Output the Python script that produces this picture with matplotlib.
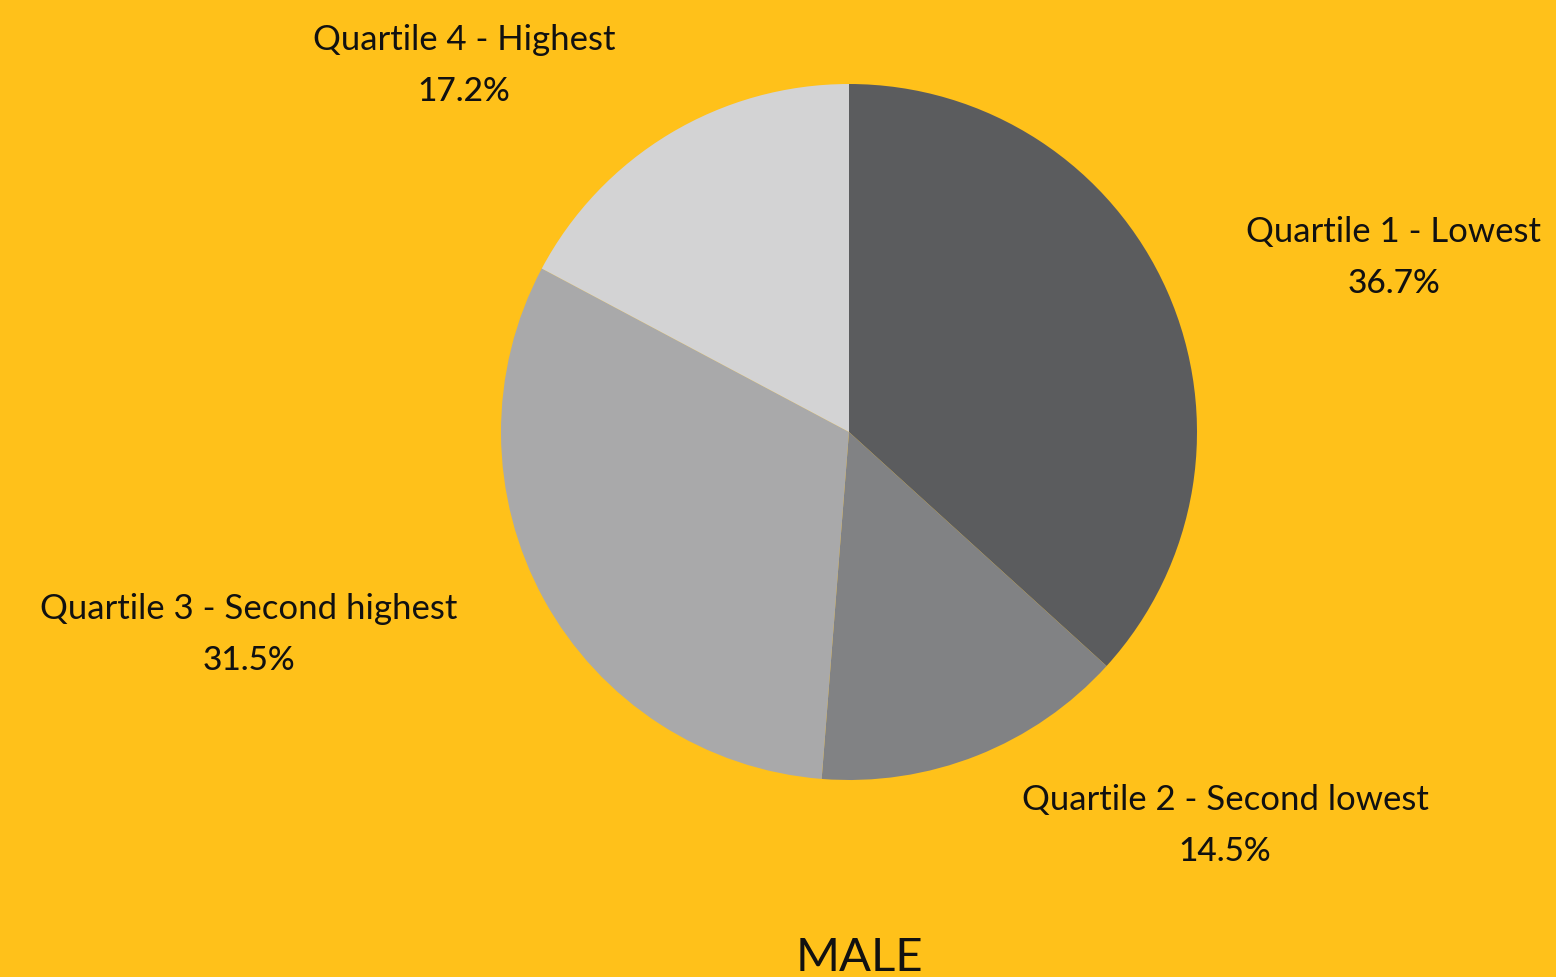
import matplotlib
matplotlib.use("Agg")
import matplotlib.pyplot as plt

categories = ["Quartile 1 - Lowest", "Quartile 2 - Second lowest",
              "Quartile 3 - Second highest", "Quartile 4 - Highest"]
values = [36.7, 14.5, 31.5, 17.2]
colors = ["#5b5c5e", "#818284", "#a9a9aa", "#d3d3d4"]
title = "MALE"

# label anchor offsets from the pie centre, in pixels (x right, y up)
label_offsets = [(545, 174), (376, -394), (-600, -203), (-385, 366)]

W, H = 1556, 977
bg = "#ffc11a"

fig = plt.figure(figsize=(W / 100, H / 100), dpi=100, facecolor=bg)
ax = fig.add_axes([0, 0, 1, 1])
ax.set_facecolor(bg)

cx, cy, r = 849, H - 432, 348
ax.pie(values, colors=colors, startangle=90, counterclock=False,
       center=(cx, cy), radius=r, frame=True,
       wedgeprops=dict(linewidth=0))
ax.set_xlim(0, W)
ax.set_ylim(0, H)
ax.set_aspect("equal")
ax.axis("off")

font = "Lato"
for name, v, (dx, dy) in zip(categories, values, label_offsets):
    ax.text(cx + dx, cy + dy + 26, name, ha="center", va="center",
            fontsize=25, family=font, color="#111111")
    ax.text(cx + dx, cy + dy - 26, f"{v}%", ha="center", va="center",
            fontsize=24, family=font, color="#111111", fontweight="medium")

ax.text(859, H - 958, title, ha="center", va="center", fontsize=34,
        family=font, color="#111111")

fig.savefig("out.png", dpi=100, facecolor=bg)
